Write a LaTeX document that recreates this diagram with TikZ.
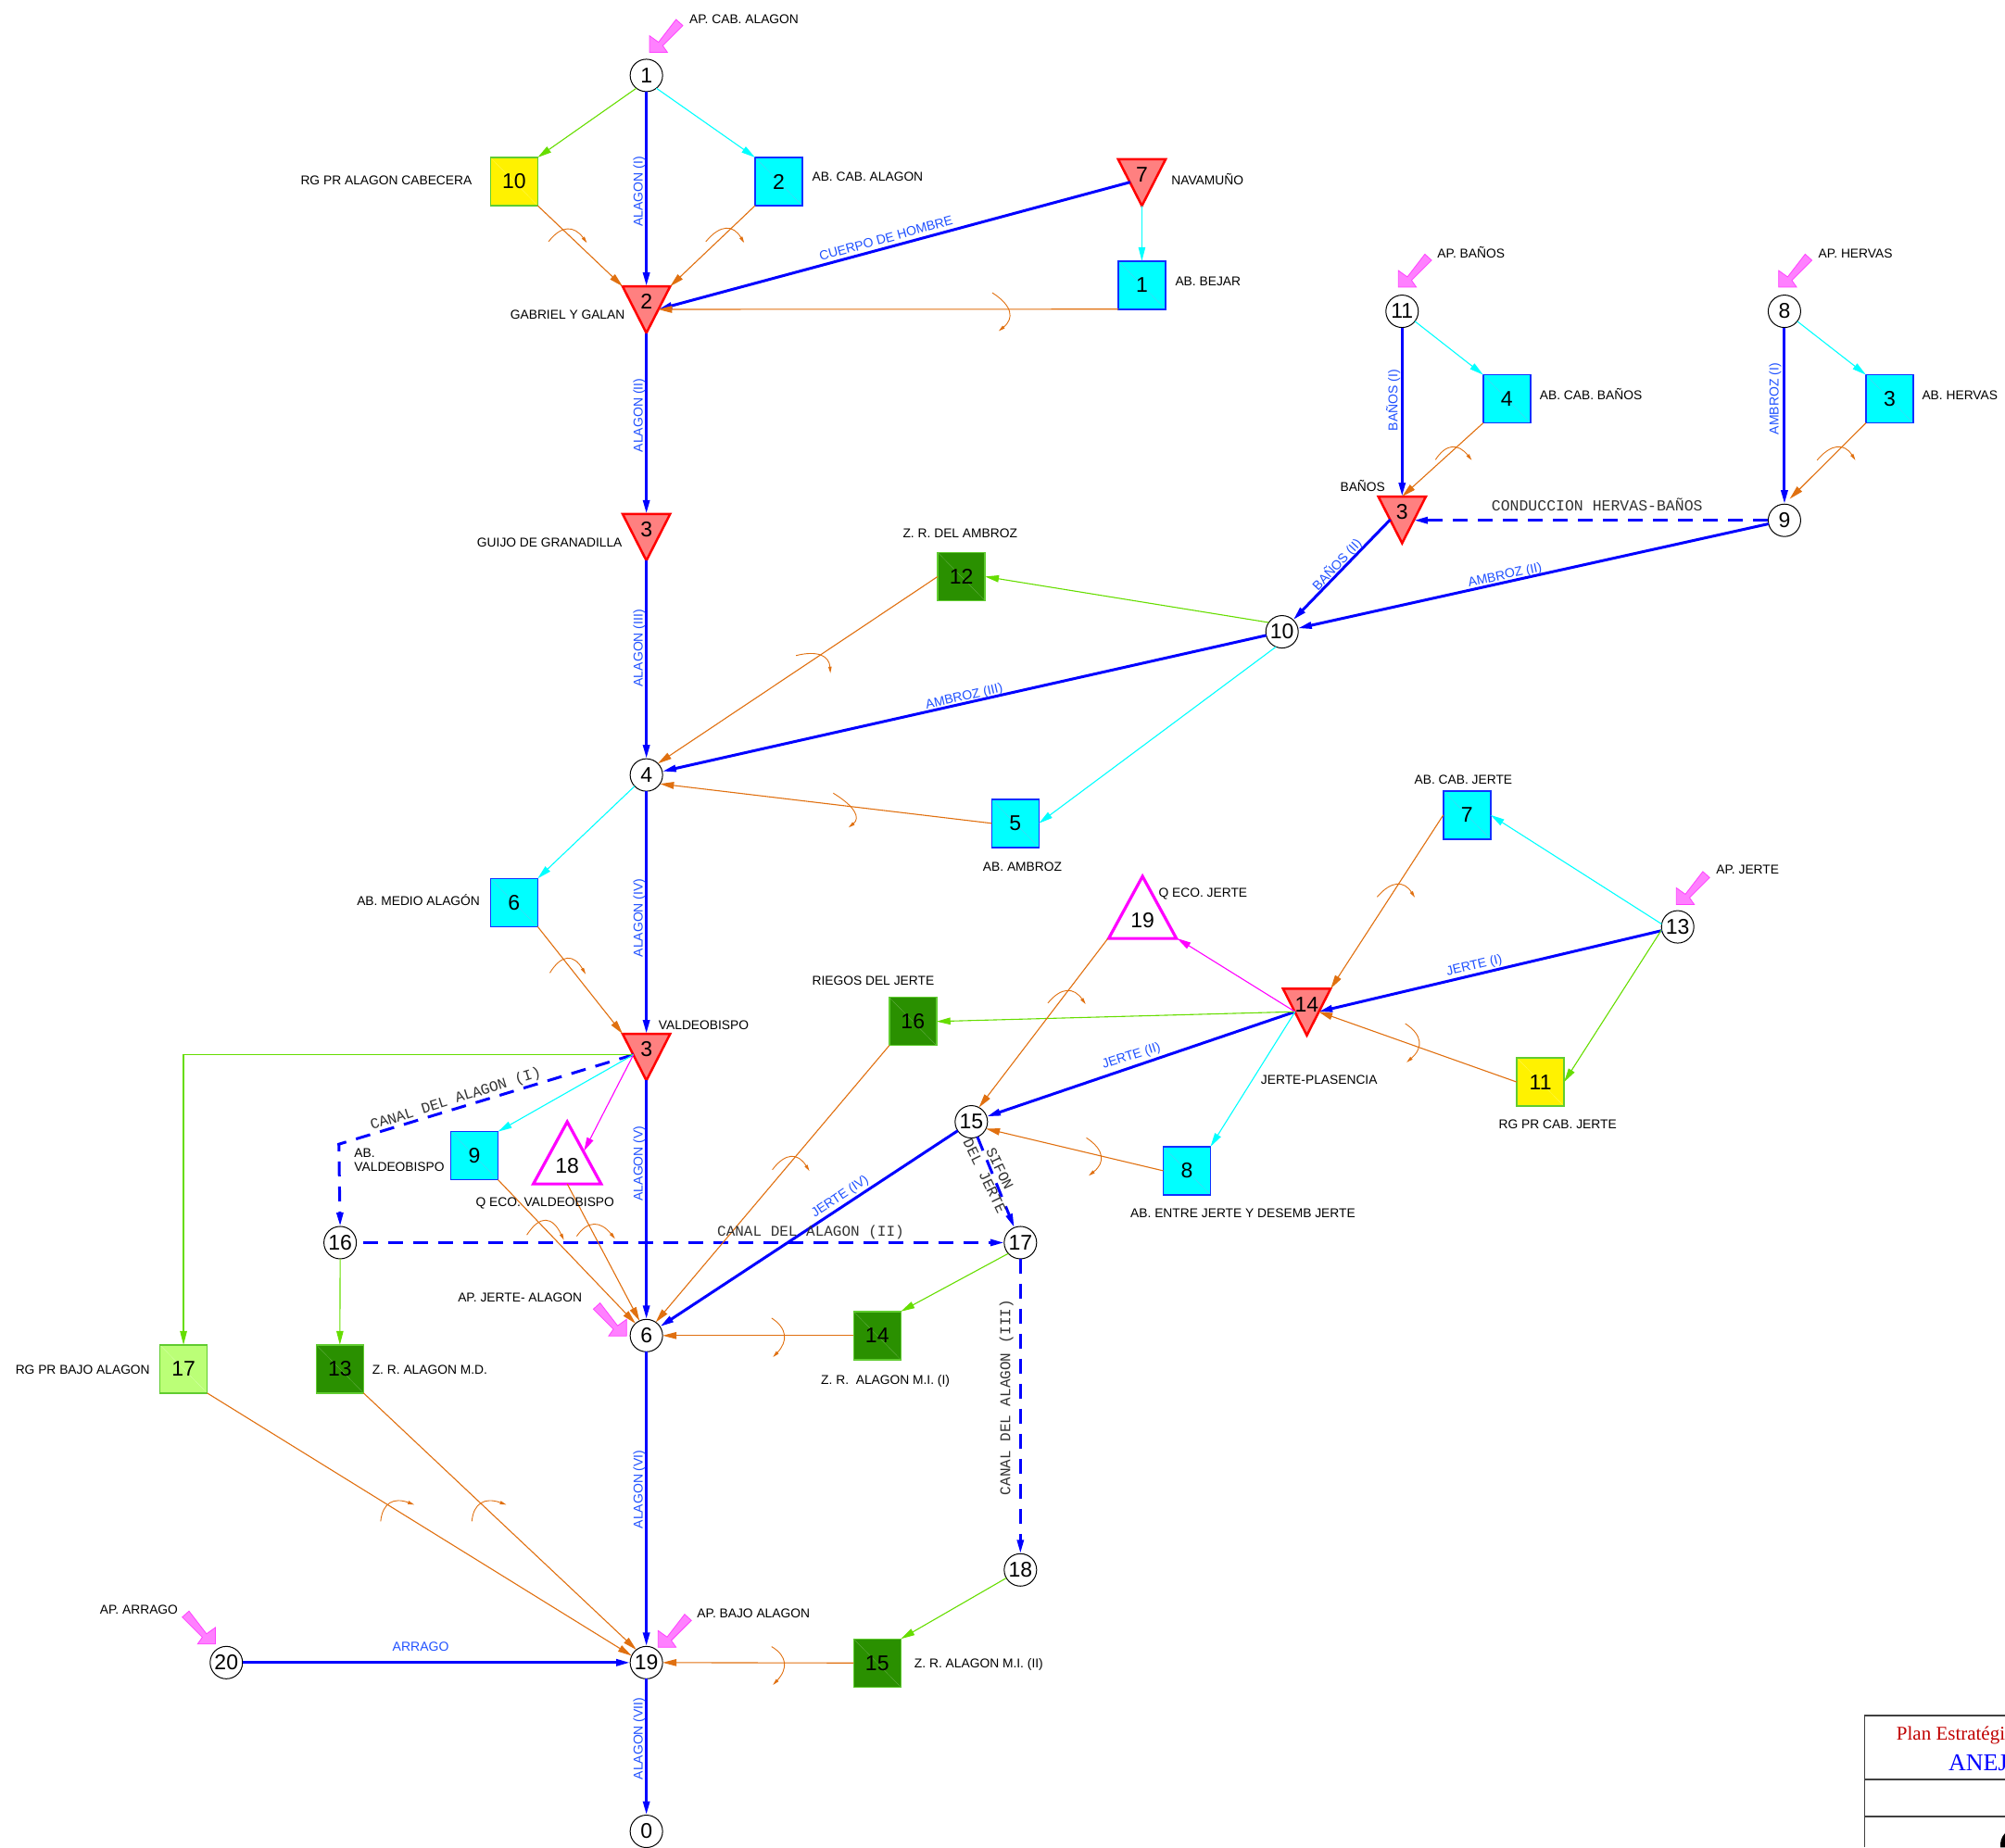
\documentclass[tikz,border=0pt]{standalone}
\usepackage{fontspec}
\setmainfont{Liberation Sans}
\newfontfamily\cadserif{Liberation Serif}
\newfontfamily\cadmono{Liberation Mono}
\usetikzlibrary{arrows.meta}
\definecolor{flowblue}{HTML}{0000FF}
\definecolor{labelblue}{HTML}{1F50FF}
\definecolor{useorange}{HTML}{E07010}
\definecolor{usegreen}{HTML}{66DD00}
\definecolor{usecyan}{HTML}{00FFFF}
\definecolor{usemag}{HTML}{FF00FF}
\definecolor{sqgreenfill}{HTML}{2A9000}
\definecolor{sqlightfill}{HTML}{BBFF77}
\definecolor{sqedge}{HTML}{1030FF}
\definecolor{sqgedge}{HTML}{60CC30}
\definecolor{trifill}{HTML}{FF8080}
\definecolor{pinkfill}{HTML}{FF80FF}
\definecolor{pinkedge}{HTML}{FF40FF}
\definecolor{titlered}{HTML}{C00000}
\tikzset{
  numfont/.style={font=\fontsize{23}{25}\selectfont},
  junction/.style={circle,draw=black,fill=white,line width=1pt,minimum size=35pt,inner sep=0pt,outer sep=0pt,numfont},
  sqbase/.style={rectangle,minimum width=51pt,minimum height=52pt,inner sep=0pt,outer sep=0pt,line width=1.5pt,numfont,
    path picture={\draw[#1,line width=.3pt] (path picture bounding box.north west) -- (path picture bounding box.south east);}},
  sqcyan/.style={sqbase=white!35!cyan,fill=usecyan,draw=sqedge},
  sqyellow/.style={sqbase=white!35!yellow,fill=yellow,draw=sqgedge},
  sqgreen/.style={sqbase=white!30!sqgreenfill,fill=sqgreenfill,draw=sqgedge},
  sqlight/.style={sqbase=white!40!sqlightfill,fill=sqlightfill,draw=sqgedge},
  trinode/.style={rectangle,minimum width=51.3pt,minimum height=50.4pt,inner sep=0pt,outer sep=0pt,numfont},
  reservoir/.style={fill=trifill,draw=red,line width=2.5pt,line join=miter},
  ecoflow/.style={fill=white,draw=usemag,line width=3.2pt,line join=miter},
  lbl/.style={font=\fontsize{13.8}{16}\selectfont,text=black,inner sep=0pt,anchor=west,text height=10pt,text depth=0pt},
  lblb/.style={font=\fontsize{14}{16}\selectfont,text=labelblue,inner sep=0pt,text height=10pt,text depth=2pt},
  lblm/.style={font=\cadmono\fontsize{16}{18}\selectfont,text=black!80,inner sep=0pt},
  river/.style={draw=flowblue,line width=3pt,-{Triangle[length=15pt,width=7pt]}},
  canal/.style={river,dash pattern=on 16pt off 11pt},
  returnflow/.style={draw=useorange,line width=1.1pt,-{Triangle[length=15pt,width=7.5pt]}},
  greenflow/.style={draw=usegreen,line width=1.1pt,-{Triangle[length=15pt,width=7.5pt]}},
  cyanflow/.style={draw=usecyan,line width=1.1pt,-{Triangle[length=15pt,width=7.5pt]}},
  magflow/.style={draw=usemag,line width=1.1pt,-{Triangle[length=15pt,width=7.5pt]}},
  turning/.style={draw=useorange,line width=.9pt,-{Triangle[length=7pt,width=3.5pt]}},
  inflow/.style={fill=pinkfill,draw=pinkedge,line width=.8pt,line join=miter},
  titlerule/.style={draw=black!75,line width=1.4pt}
}
\newcommand{\tridown}[4]{%
  \path[reservoir] (#2-18.6,#3) -- (#2+18.6,#3) -- (#2,#3+36.5) -- cycle;
  \node[trinode] (#1) at (#2,#3+18.25) {\raisebox{.5pt}[0pt][0pt]{#4}};
  \coordinate (#1-l) at (#2-9.2,#3+18);
  \coordinate (#1-r) at (#2+9.2,#3+18);
}
\newcommand{\triup}[4]{%
  \path[ecoflow] (#2-26.5,#3+48.6) -- (#2+26.5,#3+48.6) -- (#2,#3) -- cycle;
  \node[trinode,minimum width=73pt,minimum height=67pt] (#1) at (#2,#3+24.3) {\raisebox{-22pt}[0pt][0pt]{#4}};
  \coordinate (#1-r) at (#2+13,#3+23);
}
\newcommand{\turnarc}[6]{%
  % start, point on the curve half-way, end: a quadratic curve written as a cubic
  \pgfmathsetmacro\ctrlx{2*#3-(#1+#5)/2}
  \pgfmathsetmacro\ctrly{2*#4-(#2+#6)/2}
  \pgfmathsetmacro\ctrlax{#1+(\ctrlx-#1)*2/3}
  \pgfmathsetmacro\ctrlay{#2+(\ctrly-#2)*2/3}
  \pgfmathsetmacro\ctrlbx{#5+(\ctrlx-#5)*2/3}
  \pgfmathsetmacro\ctrlby{#6+(\ctrly-#6)*2/3}
  \draw[turning] (#1,#2) .. controls (\ctrlax,\ctrlay) and (\ctrlbx,\ctrlby) .. (#5,#6);
}
\newcommand{\pinkptr}[3]{%
  \path[inflow,shift={(#1,#2)},xscale=#3] (0,0) -- (0,-13) -- (7,-8) -- (20.7,-25.8) -- (26,-21) -- (10.3,-5.3) -- (14,0) -- cycle;
}
\begin{document}
\begin{tikzpicture}[x=1.3801pt,y=-1.3801pt]
\useasboundingbox (0,0) rectangle (1568,1445);
% title block
\coordinate (tb-a) at (1458,1342);
\coordinate (tb-b) at (1568,1342);
\coordinate (tb-c) at (1458,1445);
\coordinate (tb-d) at (1458,1392);
\coordinate (tb-e) at (1568,1392);
\coordinate (tb-f) at (1458,1421);
\coordinate (tb-g) at (1568,1421);
\draw[titlerule] (tb-b) -- (tb-a) -- (tb-c);
\draw[titlerule] (tb-d) -- (tb-e);
\draw[titlerule] (tb-f) -- (tb-g);
\node[anchor=base west,inner sep=0pt,text=titlered,font=\cadserif\fontsize{21}{23}\selectfont] (tb-t1) at (1483,1361) {Plan Estratégi};
\node[anchor=base west,inner sep=0pt,text=flowblue,font=\cadserif\fontsize{26}{28}\selectfont] (tb-t2) at (1523.7,1385) {ANEJ};
\fill[black] (1568,1434) .. controls (1565,1437) and (1564,1441) .. (1564.5,1445) -- (1568,1445) -- cycle;

% junctions
\node[junction] (n1) at (505.5,59) {1};
\node[junction] (n4) at (505.5,606.2) {4};
\node[junction] (n6) at (505.5,1044.7) {6};
\node[junction] (n19) at (505.5,1300.5) {19};
\node[junction] (n0) at (505.5,1432.5) {0};
\node[junction] (n20) at (177,1300.5) {20};
\node[junction] (n16) at (266,972) {16};
\node[junction] (n17) at (798,972) {17};
\node[junction] (n18) at (798,1228) {18};
\node[junction] (n15) at (759.6,877.5) {15};
\node[junction] (n10) at (1002.6,494.2) {10};
\node[junction] (n9) at (1395.5,407) {9};
\node[junction] (n8) at (1395.5,243.5) {8};
\node[junction] (n11) at (1096.5,243.5) {11};
\node[junction] (n13) at (1312,725) {13};

% demand squares
\node[sqyellow] (s10) at (402,142) {10};
\node[sqcyan] (s2) at (609,142) {2};
\node[sqcyan] (s1) at (893,223) {1};
\node[sqcyan] (s4) at (1178.4,312) {4};
\node[sqcyan] (s3) at (1477.7,312) {3};
\node[sqgreen] (s12) at (751.8,451) {12};
\node[sqcyan] (s5) at (794,644) {5};
\node[sqcyan] (s6) at (402,706) {6};
\node[sqcyan] (s7) at (1147.2,637.5) {7};
\node[sqgreen] (s16) at (713.9,799) {16};
\node[sqyellow] (s11) at (1204.7,846.4) {11};
\node[sqcyan] (s8) at (928.2,915.8) {8};
\node[sqcyan] (s9) at (371,904) {9};
\node[sqgreen] (s14) at (686,1044.7) {14};
\node[sqgreen] (s13) at (265.8,1070.8) {13};
\node[sqlight] (s17) at (143.5,1070.8) {17};
\node[sqgreen] (s15) at (686,1300.8) {15};

% reservoirs and ecological flows
\tridown{t7}{893}{124.5}{7}
\tridown{t2}{505.5}{224}{2}
\tridown{t3g}{505.5}{402}{3}
\tridown{t3b}{1096.5}{388.4}{3}
\tridown{t14}{1022}{773.4}{14}
\tridown{t3v}{505.5}{808.7}{3}
\coordinate (t3v-j) at (495.4,825);
\triup{t19}{893.5}{685.5}{19}
\triup{t18}{443.6}{877.5}{18}
\coordinate (t19-sw) at (866.5,734);
\coordinate (t19-se) at (920.5,734);
\coordinate (bend1) at (265,895);

% rivers
\draw[river] (n1.south) -- (t2.north);
\draw[river] (t2.south) -- (t3g.north);
\draw[river] (t3g.south) -- (n4.north);
\draw[river] (n4.south) -- (t3v.north);
\draw[river] (t3v.south) -- (n6.north);
\draw[river] (n6.south) -- (n19.north);
\draw[river] (n19.south) -- (n0.north);
\draw[river] (n20.east) -- (n19.west);
\draw[river] (t7-l) -- (t2-r);
\draw[river] (n11.south) -- (t3b.north);
\draw[river] (n8.south) -- (n9.north);
\draw[river] (t3b-l) -- (n10.47);
\draw[river] (n9) -- (n10);
\draw[river] (n10) -- (n4);
\draw[river] (n13) -- (t14-r);
\draw[river] (t14-l) -- (n15);
\draw[river] (n15) -- (n6);
% canals
\draw[canal] (t3v-j) -- (bend1) -- (n16.north);
\draw[canal,shorten <=7pt] (n16.east) -- (n17.west);
\draw[canal] (n17.south) -- (n18.north);
\draw[canal] (n9.west) -- (t3b-r |- n9.west);
\draw[canal] (n15) -- (n17);

% supply connections
\draw[greenflow] (n1.-128) -- (s10.north east);
\draw[cyanflow] (n1.-52) -- (s2.north west);
\draw[cyanflow] (t7.south) -- (s1.north);
\draw[cyanflow] (n11) -- (s4.north west);
\draw[cyanflow] (n8) -- (s3.north west);
\draw[greenflow] (n10.145) -- (s12.east);
\draw[cyanflow] (n10.-112) -- (s5.east);
\draw[cyanflow] (n4) -- (s6.north east);
\draw[greenflow] (t3v-j) -- (s17.north |- t3v-j) -- (s17.north);
\draw[cyanflow] (t3v-j) -- (s9.north east);
\draw[magflow] (t3v-j) -- (t18-r);
\draw[greenflow] (n16.south) -- (s13.north);
\draw[greenflow] (n17.222) -- (s14.north east);
\draw[greenflow] (n18) -- (s15.north east);
\draw[cyanflow] (n13.170) -- (s7.east);
\draw[greenflow] (n13.190) -- (s11.east);
\draw[greenflow] (t14-l) -- (s16.east);
\draw[magflow] (t14-l) -- (t19-se);
\draw[cyanflow] (t14-l) -- (s8.north east);

% return connections
\draw[returnflow] (s10.south east) -- (t2.north west);
\draw[returnflow] (s2.south west) -- (t2.north east);
\draw[returnflow] (s1.south west) -- (t2-r);
\draw[returnflow] (s4.south west) -- (t3b.north);
\draw[returnflow,shorten >=8pt] (s3.south west) -- (n9.north);
\draw[returnflow] (s12.west) -- (n4.45);
\draw[returnflow] (s5.west) -- (n4.-33);
\draw[returnflow] (s6.south east) -- (t3v.north west);
\draw[returnflow] (s7.west) -- (t14.north east);
\draw[returnflow] (s11.west) -- (t14-r);
\draw[returnflow] (t19-sw) -- (n15.62);
\draw[returnflow] (s8.west) -- (n15.-25);
\draw[returnflow] (s16.south west) -- (n6.55);
\draw[returnflow] (s9.south east) -- (n6.132);
\draw[returnflow] (t18.south) -- (n6.115);
\draw[returnflow] (s14.west) -- (n6.east);
\draw[returnflow] (s13.south east) -- (n19.128);
\draw[returnflow] (s17.south east) -- (n19.155);
\draw[returnflow] (s15.west) -- (n19.east);

% turning arcs
\turnarc{429}{189}{444}{179.5}{459}{190}
\turnarc{552}{189}{568}{179}{582}{190}
\turnarc{776}{229}{789}{244}{781}{259}
\turnarc{1122.6}{359.6}{1136}{350}{1151}{360}
\turnarc{1421}{360}{1437}{350}{1451}{360}
\turnarc{622.5}{512.8}{642}{513}{649.4}{526.6}
\turnarc{651.6}{620.4}{667.6}{635}{663.6}{647.3}
\turnarc{430}{761}{444}{750}{458}{762}
\turnarc{1077}{701.6}{1092.7}{692}{1106.5}{702}
\turnarc{819.5}{784.6}{834.7}{775.3}{849}{785.5}
\turnarc{1099}{800.7}{1109.5}{815}{1100}{831}
\turnarc{604}{915}{619}{905}{633}{916}
\turnarc{849.6}{890}{860.7}{904.5}{851.4}{919.7}
\turnarc{412}{966}{427}{955}{441}{970}
\turnarc{451}{967}{465}{958}{481}{969}
\turnarc{603.4}{1031}{613}{1044.7}{604.5}{1061.6}
\turnarc{297.7}{1190}{305.4}{1175.8}{324}{1177}
\turnarc{369}{1190}{376.8}{1175.8}{396}{1177}
\turnarc{603.4}{1288}{613}{1301}{604.5}{1318}

% inflow pointers
\pinkptr{508}{41}{1}
\pinkptr{1093.6}{224.6}{1}
\pinkptr{1391}{224.6}{1}
\pinkptr{1311}{707.5}{1}
\pinkptr{514.7}{1288.5}{1}
\pinkptr{490}{1045}{-1}
\pinkptr{168.5}{1286}{-1}

% black labels
\node[lbl] (l1) at (539,15) {AP. CAB. ALAGON};
\node[lbl] (l2) at (235,141) {RG PR ALAGON CABECERA};
\node[lbl] (l3) at (635,138) {AB. CAB. ALAGON};
\node[lbl] (l4) at (916,141) {NAVAMUÑO};
\node[lbl] (l5) at (919,220) {AB. BEJAR};
\node[lbl] (l6) at (399,246) {GABRIEL Y GALAN};
\node[lbl] (l7) at (373,424) {GUIJO DE GRANADILLA};
\node[lbl] (l8) at (1124,198) {AP. BAÑOS};
\node[lbl] (l9) at (1422,198) {AP. HERVAS};
\node[lbl] (l10) at (1204,309) {AB. CAB. BAÑOS};
\node[lbl] (l11) at (1503,309) {AB. HERVAS};
\node[lbl] (l12) at (1048,381) {BAÑOS};
\node[lbl] (l13) at (706,417) {Z. R. DEL AMBROZ};
\node[lbl] (l14) at (1106,610) {AB. CAB. JERTE};
\node[lbl] (l15) at (1342,680) {AP. JERTE};
\node[lbl] (l16) at (279,705) {AB. MEDIO ALAGÓN};
\node[lbl] (l17) at (768.6,677.5) {AB. AMBROZ};
\node[lbl] (l18) at (906,698) {Q ECO. JERTE};
\node[lbl] (l19) at (635,767) {RIEGOS DEL JERTE};
\node[lbl] (l20) at (515,802) {VALDEOBISPO};
\node[lbl] (l21) at (986,844.5) {JERTE-PLASENCIA};
\node[lbl] (l22) at (1172,879) {RG PR CAB. JERTE};
\node[lbl] (l23) at (277,901.5) {AB.};
\node[lbl] (l24) at (277,912.5) {VALDEOBISPO};
\node[lbl] (l25) at (372,940) {Q ECO. VALDEOBISPO};
\node[lbl] (l26) at (884,948.6) {AB. ENTRE JERTE Y DESEMB JERTE};
\node[lbl] (l27) at (358,1015) {AP. JERTE- ALAGON};
\node[lbl] (l28) at (291,1071) {Z. R. ALAGON M.D.};
\node[lbl] (l29) at (12,1071) {RG PR BAJO ALAGON};
\node[lbl] (l30) at (642,1079) {Z. R.\ \ ALAGON M.I. (I)};
\node[lbl] (l31) at (78,1259) {AP. ARRAGO};
\node[lbl] (l32) at (545,1262) {AP. BAJO ALAGON};
\node[lbl] (l33) at (715,1301) {Z. R. ALAGON M.I. (II)};

% river labels
\node[lblb,rotate=90] (b1) at (499.7,150) {ALAGON (I)};
\node[lblb,rotate=90] (b2) at (499.7,325) {ALAGON (II)};
\node[lblb,rotate=90] (b3) at (499.7,507) {ALAGON (III)};
\node[lblb,rotate=90] (b4) at (499.7,718) {ALAGON (IV)};
\node[lblb,rotate=90] (b5) at (499.7,910) {ALAGON (V)};
\node[lblb,rotate=90] (b6) at (499.7,1165) {ALAGON (VI)};
\node[lblb,rotate=90] (b7) at (499.7,1360) {ALAGON (VII)};
\node[lblb,rotate=90] (b8) at (1090,313) {BAÑOS (I)};
\node[lblb,rotate=90] (b9) at (1388,312) {AMBROZ (I)};
\node[lblb,rotate=15.4] (b10) at (693,187) {CUERPO DE HOMBRE};
\node[lblb,rotate=47] (b11) at (1046,442) {BAÑOS (II)};
\node[lblb,rotate=12] (b12) at (1177,450) {AMBROZ (II)};
\node[lblb,rotate=12.8] (b13) at (754,545) {AMBROZ (III)};
\node[lblb,rotate=13.3] (b14) at (1153,755.5) {JERTE (I)};
\node[lblb,rotate=18] (b15) at (884.8,826) {JERTE (II)};
\node[lblb,rotate=34] (b16) at (657,936) {JERTE (IV)};
\node[lblb] (b17) at (329,1289) {ARRAGO};

% canal labels
\node[lblm,font=\cadmono\fontsize{16.5}{18}\selectfont] (m1) at (1249,395) {CONDUCCION HERVAS-BAÑOS};
\node[lblm,rotate=17.6] (m2) at (356.5,860) {CANAL DEL ALAGON (I)};
\node[lblm] (m3) at (634,964) {CANAL DEL ALAGON (II)};
\node[lblm,rotate=90] (m4) at (787,1093) {CANAL DEL ALAGON (III)};
\node[lblm,rotate=-64,align=center] (m5) at (776,917) {SIFON\\DEL JERTE};
\end{tikzpicture}
\end{document}
